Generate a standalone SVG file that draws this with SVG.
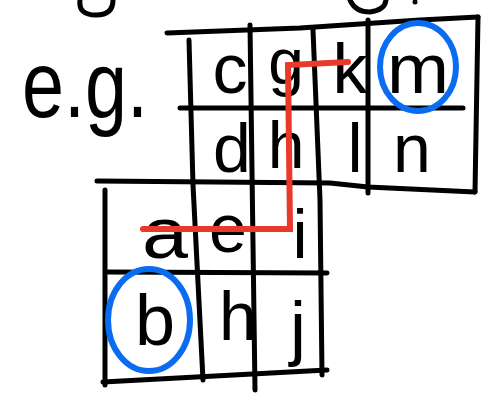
<svg xmlns="http://www.w3.org/2000/svg" width="491" height="402" viewBox="0 0 491 402">
<style>
.ink{fill:none;stroke:#000;stroke-width:5;stroke-linecap:round;stroke-linejoin:round}
.red{fill:none;stroke:#e8392a;stroke-width:6;stroke-linecap:round;stroke-linejoin:miter}
.blue{fill:none;stroke:#0a6cf0;stroke-width:6}
.t{font-family:"Liberation Sans","DejaVu Sans",sans-serif;fill:#000;text-anchor:middle}
</style>
<rect width="491" height="402" fill="#fff"/>
<g id="fragments">
<path class="ink" d="M80,0 Q78,15 96,15 Q113,15 113,0"/>
<path class="ink" d="M350,0 Q355,12 370,12 Q385,10 386,0"/>
<circle cx="415" cy="2" r="2.5" fill="#000"/>
</g>
<g id="grid">
<path class="ink" d="M167,33 L300,28 L420,20 L478,17"/>
<path class="ink" d="M478,17 L475,192"/>
<path class="ink" d="M180,108 L463,108"/>
<path class="ink" d="M97,181 L330,183 L368,187 L475,192"/>
<path class="ink" d="M189,40 L193,185 L203,380"/>
<path class="ink" d="M250,25 L255,390"/>
<path class="ink" d="M313,30 L320,200 L322,375"/>
<path class="ink" d="M368,20 L368,193"/>
<path class="ink" d="M105,190 L105,385"/>
<path class="ink" d="M108,272 L327,273"/>
<path class="ink" d="M103,382 L327,370"/>
</g>
<g id="label">
<text class="t" x="85" y="117" font-size="95" textLength="126" lengthAdjust="spacingAndGlyphs">e.g.</text>
</g>
<g id="letters">
<text class="t" x="230" y="93" font-size="70">c</text>
<text class="t" x="286" y="84" font-size="64">g</text>
<text class="t" x="350" y="93" font-size="70">k</text>
<text class="t" x="418" y="93" font-size="70" textLength="62" lengthAdjust="spacingAndGlyphs">m</text>
<text class="t" x="232" y="172" font-size="68">d</text>
<text class="t" x="286" y="168" font-size="66">h</text>
<text class="t" x="355" y="172" font-size="68">l</text>
<text class="t" x="412" y="172" font-size="68">n</text>
<text class="t" x="165" y="258" font-size="72" textLength="46" lengthAdjust="spacingAndGlyphs">a</text>
<text class="t" x="228" y="252" font-size="68">e</text>
<text class="t" x="300" y="258" font-size="68">i</text>
<text class="t" x="155" y="345" font-size="72">b</text>
<text class="t" x="238" y="340" font-size="68">h</text>
<text class="t" x="298" y="352" font-size="72">j</text>
</g>
<g id="connectors">
<path class="red" d="M143,229 L290,229 L288,65 L348,62"/>
<ellipse class="blue" cx="418" cy="67" rx="38" ry="44"/>
<ellipse class="blue" cx="149" cy="320" rx="41" ry="51"/>
</g>
</svg>
